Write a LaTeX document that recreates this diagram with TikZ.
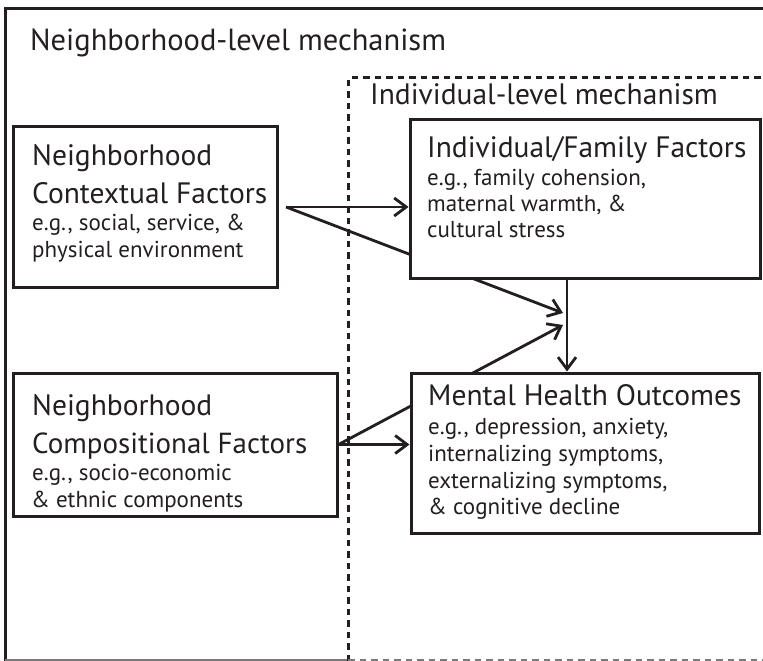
\documentclass[tikz,border=0pt]{standalone}
\usepackage{fontspec}
\setmainfont{PT Sans}
\usetikzlibrary{arrows.meta}
\definecolor{ink}{RGB}{35,31,32}
\pgfdeclarelayer{bg}
\pgfsetlayers{bg,main}
\begin{document}
\begin{tikzpicture}[x=1pt,y=-1pt,
  box/.style={draw=ink, line width=3pt, fill=white, rectangle, inner sep=0pt},
  hd/.style={anchor=base west, inner sep=0pt, text=ink, font=\fontsize{29.5}{35}\selectfont},
  bd/.style={anchor=base west, inner sep=0pt, text=ink, font=\fontsize{23}{27}\selectfont},
  arr/.style={draw=ink, line width=2.8pt, -{Straight Barb[length=12pt,width=18pt,line width=2.8pt]}},
  frame/.style={draw=ink, line width=3pt},
  dframe/.style={draw=ink, line width=3pt, dash pattern=on 6.5pt off 5pt},
]
\useasboundingbox (0,0) rectangle (763,661);
% frames
\draw[frame] (5,661) -- (5,9) -- (763,9);
\draw[draw=ink!60, line width=1.5pt] (5,660) -- (348,660);
\draw[dframe] (348,661) -- (348,78) -- (763,78);
\draw[draw=ink!60, line width=1.5pt, dash pattern=on 6.5pt off 5pt] (348,660) -- (763,660);
\node[hd, font=\fontsize{30.5}{36}\selectfont] (t1) at (30,51) {Neighborhood-level mechanism};
\node[hd, font=\fontsize{29.5}{35}\selectfont] (t2) at (370,104) {Individual-level mechanism};
% boxes
\node[box, minimum width=264pt, minimum height=161pt] (nc) at (145,206.5) {};
\node[box, minimum width=350pt, minimum height=159pt] (if) at (585,198.5) {};
\node[box, minimum width=324pt, minimum height=143pt] (ncomp) at (175,444.5) {};
\node[box, minimum width=348pt, minimum height=160pt] (mh) at (585,453) {};
% texts
\node[hd] (nch1) at (32,165) {Neighborhood};
\node[hd] (nch2) at (32,203) {Contextual Factors};
\node[bd] (ncb1) at (32,230) {e.g., social, service, \&};
\node[bd] (ncb2) at (32,257) {physical environment};
\node[hd] (ifh) at (427,157) {Individual/Family Factors};
\node[bd] (ifb1) at (427,185) {e.g., family cohension,};
\node[bd] (ifb2) at (427,211) {maternal warmth, \&};
\node[bd] (ifb3) at (427,237) {cultural stress};
\node[hd] (cph1) at (32,415) {Neighborhood};
\node[hd, font=\fontsize{29}{35}\selectfont] (cph2) at (32,453) {Compositional Factors};
\node[bd] (cpb1) at (32,480) {e.g., socio-economic};
\node[bd] (cpb2) at (31,507) {\& ethnic components};
\node[hd] (mhh) at (428,405) {Mental Health Outcomes};
\node[bd] (mhb1) at (428,434) {e.g., depression, anxiety,};
\node[bd] (mhb2) at (428,461) {internalizing symptoms,};
\node[bd] (mhb3) at (428,488) {externalizing symptoms,};
\node[bd] (mhb4) at (428,514) {\& cognitive decline};
% connectors
\coordinate (s1) at (286,207);
\coordinate (m1) at (563,313);
\coordinate (m2) at (563,325);
\coordinate (vx) at (567,0);
\draw[arr] (s1) -- (s1 -| if.west);
\begin{pgfonlayer}{bg}
\draw[arr] (s1) -- (m1);
\draw[arr] (ncomp.east) -- (m2);
\end{pgfonlayer}
\draw[arr] (ncomp.east) -- (ncomp.east -| mh.west);
\draw[arr] (if.south -| vx) -- (mh.north -| vx);
\end{tikzpicture}
\end{document}
